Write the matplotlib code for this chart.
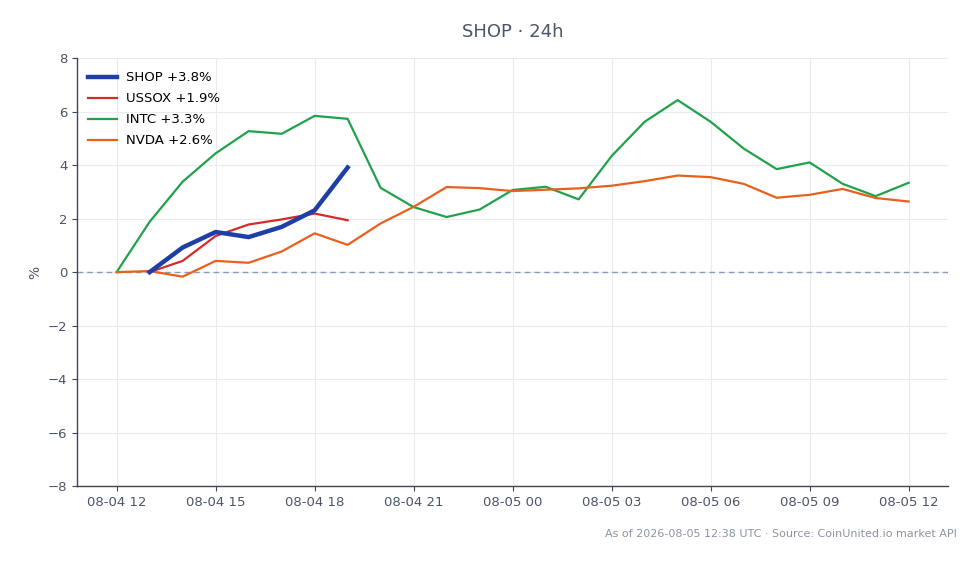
import pandas as pd
import matplotlib
matplotlib.use('Agg')
import matplotlib.pyplot as plt
import matplotlib.dates as mdates

# Horas (24h, de hora em hora)
horas = pd.date_range('2026-08-04 12:00', '2026-08-05 12:00', freq='h')

# Variação % acumulada
intc = [0.0, 1.88, 3.38, 4.44, 5.27, 5.17, 5.84, 5.73, 3.15, 2.43, 2.06, 2.34,
        3.07, 3.19, 2.72, 4.34, 5.62, 6.43, 5.62, 4.62, 3.85, 4.10, 3.30, 2.84, 3.34]
nvda = [0.0, 0.04, -0.17, 0.42, 0.35, 0.77, 1.45, 1.02, 1.82, 2.44, 3.18, 3.14,
        3.03, 3.08, 3.13, 3.23, 3.40, 3.61, 3.55, 3.30, 2.78, 2.89, 3.11, 2.77, 2.64]
shop = [0.0, 0.92, 1.50, 1.31, 1.69, 2.31, 3.91]
ussox = [0.0, 0.42, 1.35, 1.78, 1.97, 2.19, 1.94]
horas_curtas = horas[1:8]

rotulos = ['SHOP +3.8%', 'USSOX +1.9%', 'INTC +3.3%', 'NVDA +2.6%']
cor_texto = '#4a5568'

fig = plt.figure(figsize=(9.8, 5.64), dpi=100)
ax = fig.add_axes([0.0786, 0.138, 0.889, 0.759])

ax.plot(horas_curtas, shop, color='#1e3fa6', lw=3.2, label=rotulos[0], zorder=5)
ax.plot(horas_curtas, ussox, color='#d62a2a', lw=1.6, label=rotulos[1], zorder=4)
ax.plot(horas, intc, color='#20a24a', lw=1.6, label=rotulos[2], zorder=3)
ax.plot(horas, nvda, color='#e8601c', lw=1.6, label=rotulos[3], zorder=3)

ax.axhline(0, color='#8a9bb5', lw=1, ls=(0, (4, 3)), zorder=1)

ax.set_ylim(-8, 8)
ax.set_yticks(range(-8, 9, 2))
ax.xaxis.set_major_locator(mdates.HourLocator(byhour=range(0, 24, 3)))
ax.xaxis.set_major_formatter(mdates.DateFormatter('%m-%d %H'))

ax.grid(True, color='#e8ebf0', lw=0.8)
ax.set_axisbelow(True)
for s in ['top', 'right']:
    ax.spines[s].set_visible(False)
for s in ['left', 'bottom']:
    ax.spines[s].set_color('#3d4654')
    ax.spines[s].set_linewidth(1.0)
ax.tick_params(colors='#3d4654', labelcolor=cor_texto, labelsize=9.5)

ax.set_ylabel('%', color=cor_texto, fontsize=10)
ax.set_title('SHOP · 24h', color=cor_texto, fontsize=13, pad=15)

ax.legend(loc='upper left', bbox_to_anchor=(0.001, 0.992), frameon=False,
          fontsize=9.5, handlelength=2.2, handletextpad=0.7,
          borderaxespad=0.35, labelspacing=0.6)

fig.text(0.976, 0.054, 'As of 2026-08-05 12:38 UTC · Source: CoinUnited.io market API',
         ha='right', va='center', fontsize=8, color='#8a94a3')

fig.savefig('out.png', dpi=100)
